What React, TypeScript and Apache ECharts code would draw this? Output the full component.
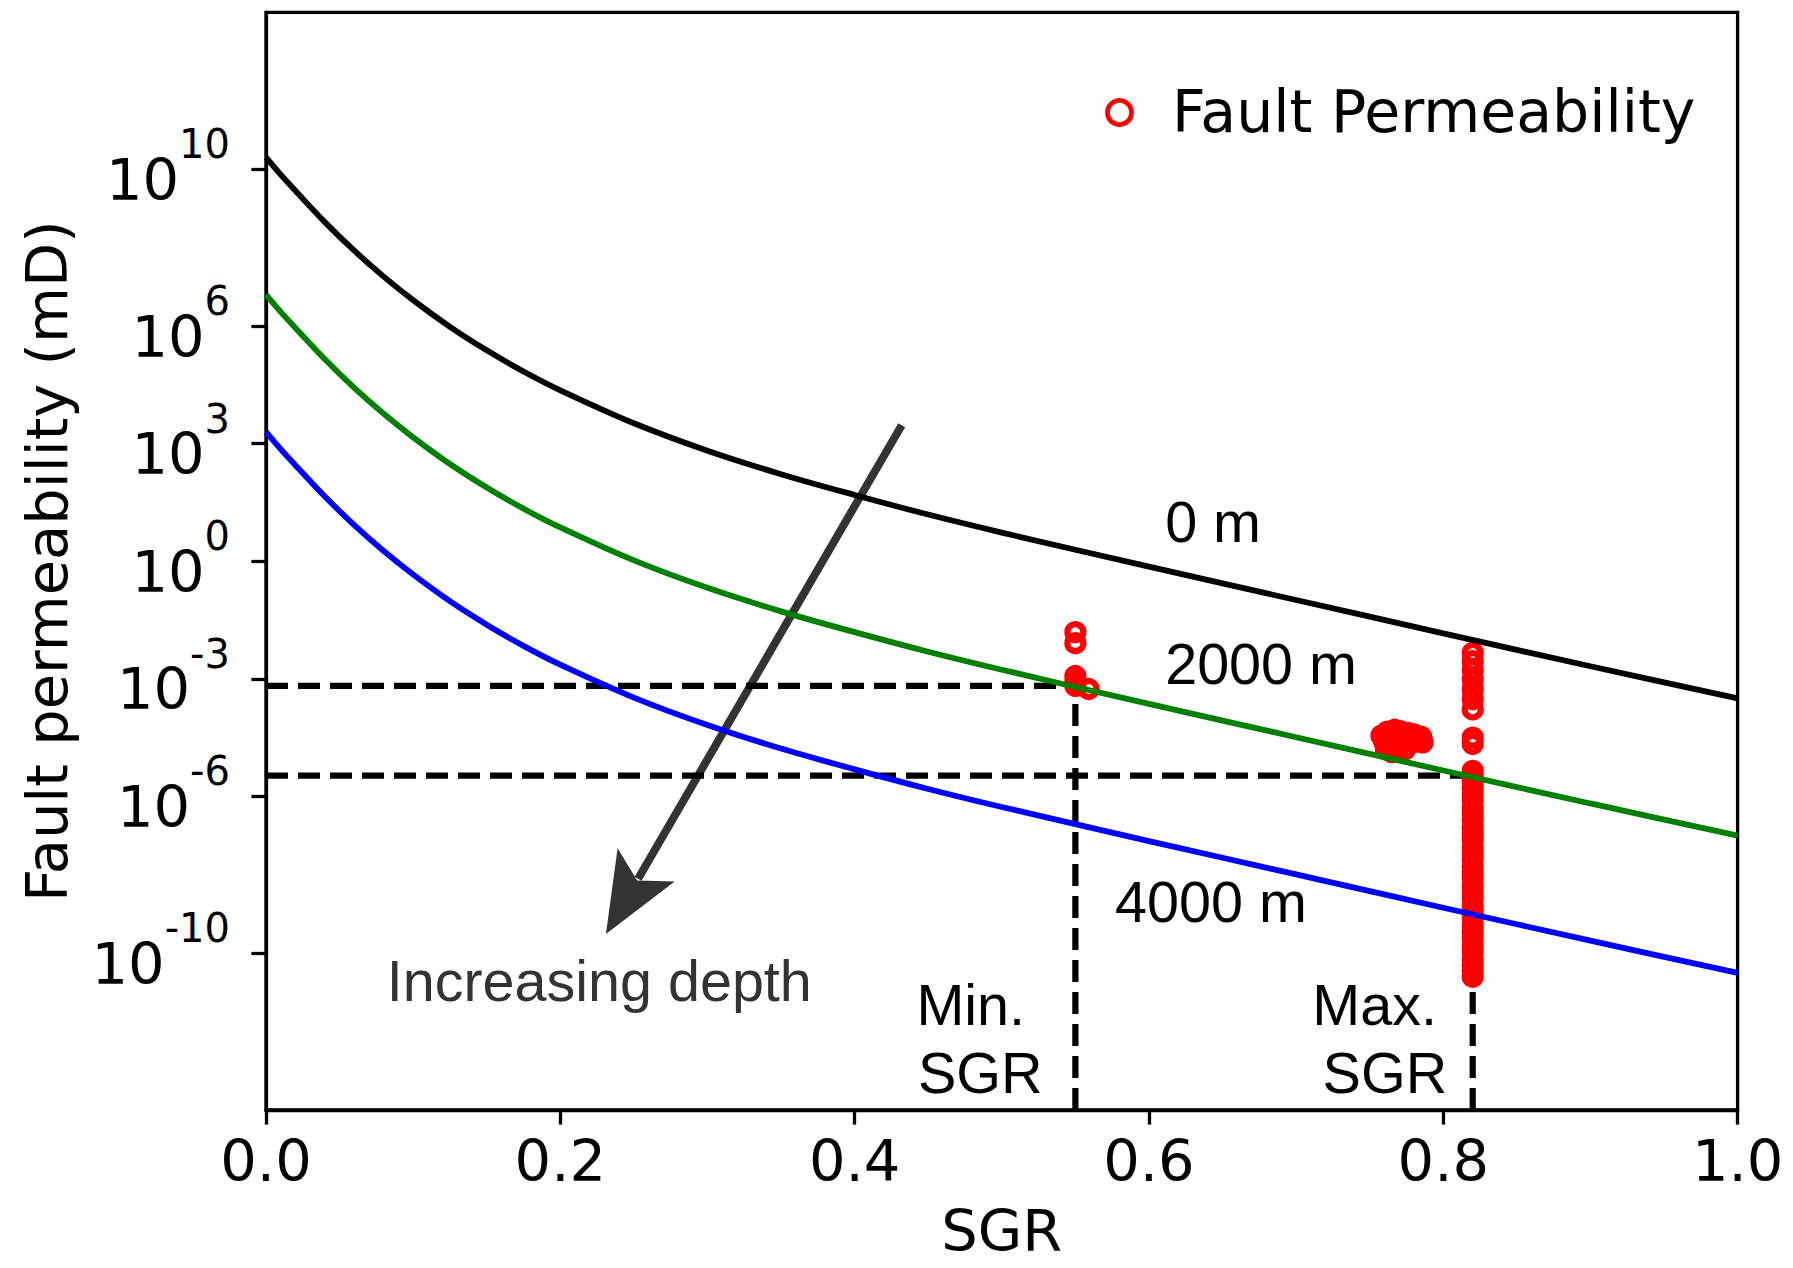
import React, { useEffect, useRef } from "react";
import * as echarts from "echarts";

const W = 1793;
const H = 1268;

// SGR sample positions and the permeability curves (log10 of mD) for three depths
const sgrSamples = [0, 0.01, 0.02, 0.04, 0.06, 0.08, 0.1, 0.125, 0.15, 0.175, 0.2, 0.25, 0.3, 0.35, 0.4, 0.45, 0.5, 0.6, 0.7, 0.8, 0.9, 1.0];
const logPerm0m = [10.3, 9.86, 9.45, 8.65, 7.92, 7.26, 6.66, 5.98, 5.38, 4.84, 4.36, 3.52, 2.82, 2.22, 1.69, 1.19, 0.73, -0.14, -0.99, -1.84, -2.68, -3.5];
const logPerm2000m = [6.8, 6.36, 5.95, 5.15, 4.42, 3.76, 3.16, 2.48, 1.88, 1.34, 0.86, 0.02, -0.68, -1.28, -1.81, -2.31, -2.77, -3.64, -4.49, -5.34, -6.18, -7.0];
const logPerm4000m = [3.3, 2.86, 2.45, 1.65, 0.92, 0.26, -0.34, -1.02, -1.62, -2.16, -2.64, -3.48, -4.18, -4.78, -5.31, -5.81, -6.27, -7.14, -7.99, -8.84, -9.68, -10.5];

// Fault permeability samples: [SGR, log10 k]
const faultPermMinGroup = [
  [0.55, -1.81], [0.55, -2.09], [0.55, -2.93], [0.55, -3.08], [0.55, -3.18], [0.559, -3.26],
];
const faultPermMidGroup = [
  [0.758, -4.45], [0.76, -4.62], [0.761, -4.8], [0.762, -4.35], [0.763, -4.55], [0.764, -4.7],
  [0.765, -4.87], [0.766, -4.4], [0.767, -4.3], [0.768, -4.58], [0.769, -4.75], [0.77, -4.5],
  [0.771, -4.34], [0.772, -4.65], [0.773, -4.45], [0.774, -4.8], [0.776, -4.38], [0.778, -4.55],
  [0.78, -4.42], [0.782, -4.6], [0.785, -4.48], [0.786, -4.62],
];
const maxGroupSGR = 0.82;
const faultPermMaxGroup = [
  -2.34, -2.55, -2.78, -3.02, -3.27, -3.52, -3.78, -4.5, -4.66,
  -5.35, -5.5, -5.62, -5.8, -5.95, -6.1, -6.3, -6.45, -6.6, -6.8, -6.95, -7.1, -7.3, -7.45,
  -7.6, -7.8, -7.95, -8.1, -8.3, -8.45, -8.6, -8.8, -8.95, -9.1, -9.3, -9.45, -9.6, -9.8,
  -9.95, -10.15, -10.3, -10.45, -10.6,
];

// Min./Max. SGR read-off on the 2000 m curve
const minSGR = 0.55;
const minSGRLogPerm = -3.18;
const maxSGR = 0.82;
const maxSGRLogPerm = -5.47;

// Axis settings
const yMin = -14;
const yMax = 14;
const yTickExponents = [-10, -6, -3, 0, 3, 6, 10];
const xMin = 0;
const xMax = 1;
const xInterval = 0.2;

// Arrow for increasing depth: [SGR, log10 k] of tail and tip
const arrowTail = [0.432, 3.47];
const arrowTip = [0.231, -9.51];

// Text notes: label, SGR of left edge, log10 k of centre line
const noteTexts = ["0 m", "2000 m", "4000 m", "Min.", "SGR", "Max.", "SGR", "Increasing depth"];
const noteSGR = [0.611, 0.611, 0.577, 0.442, 0.443, 0.711, 0.718, 0.082];
const noteLogK = [0.99, -2.61, -8.69, -11.33, -13.06, -11.33, -13.06, -10.71];
const noteColors = ["#000", "#000", "#000", "#000", "#000", "#000", "#000", "#333"];

const legendLabel = "Fault Permeability";

const FONT_AXIS = "'DejaVu Sans', sans-serif";
const FONT_NOTE = "'Liberation Sans', Arial, sans-serif";
const FS = 57.5;
const FS_SUP = 40;
const FS_LEGEND = 58.5;
const AXIS_W = 3.3;
const CURVE_W = 5.8;

const GRID = { left: 266, top: 12.4, width: 1471.6, height: 1097.6 };

function textWidth(text: string, font: string): number {
  const ctx = document.createElement("canvas").getContext("2d");
  if (!ctx) return text.length * 25;
  ctx.font = font;
  return ctx.measureText(text).width;
}

function buildOption(): any {
  const curve = (vals: number[], color: string) => ({
    type: "line",
    data: sgrSamples.map((s, i) => [s, vals[i]]),
    showSymbol: false,
    symbol: "none",
    smooth: 0.35,
    lineStyle: { color, width: CURVE_W },
    silent: true,
    clip: true,
  });

  const faultPoints = [
    ...faultPermMinGroup,
    ...faultPermMidGroup,
    ...faultPermMaxGroup.map((v) => [maxGroupSGR, v]),
  ];

  const dashSegments = [
    [xMin, minSGRLogPerm, minSGR, minSGRLogPerm],
    [minSGR, yMin, minSGR, minSGRLogPerm],
    [xMin, maxSGRLogPerm, maxSGR, maxSGRLogPerm],
    [maxSGR, yMin, maxSGR, maxSGRLogPerm],
  ];

  // y tick labels: exponent on a first short line, "10" plus a spacer the width of
  // the exponent on the second line, both right-aligned, so the exponent sits raised
  const supFont = `${FS_SUP}px 'DejaVu Sans'`;
  const yRich: any = {
    s: { fontFamily: FONT_AXIS, fontSize: FS_SUP, lineHeight: 22, color: "#000" },
    b: { fontFamily: FONT_AXIS, fontSize: FS, lineHeight: 50, color: "#000" },
  };
  yTickExponents.forEach((e, i) => {
    yRich[`g${i}`] = { width: textWidth(String(e), supFont), lineHeight: 50, fontSize: FS_SUP };
  });

  return {
    animation: false,
    backgroundColor: "#fff",
    grid: {
      ...GRID,
      show: true,
      borderColor: "#000",
      borderWidth: AXIS_W,
      backgroundColor: "transparent",
      containLabel: false,
      outerBoundsMode: "none",
    },
    xAxis: {
      type: "value",
      min: xMin,
      max: xMax,
      interval: xInterval,
      name: "SGR",
      nameLocation: "middle",
      nameGap: 92,
      nameTextStyle: { fontFamily: FONT_AXIS, fontSize: FS, color: "#000" },
      axisLine: { show: true, onZero: false, lineStyle: { color: "#000", width: AXIS_W } },
      axisTick: { show: true, inside: false, length: 14.6, lineStyle: { color: "#000", width: AXIS_W } },
      axisLabel: {
        fontFamily: FONT_AXIS,
        fontSize: FS,
        color: "#000",
        margin: 22,
        formatter: (v: number) => v.toFixed(1),
      },
      splitLine: { show: false },
    },
    yAxis: {
      type: "value",
      min: yMin,
      max: yMax,
      interval: 1,
      name: "Fault permeability (mD)",
      nameLocation: "middle",
      nameGap: 190,
      nameTextStyle: { fontFamily: FONT_AXIS, fontSize: FS, color: "#000" },
      axisLine: { show: true, onZero: false, lineStyle: { color: "#000", width: AXIS_W } },
      axisTick: {
        show: true,
        inside: false,
        length: 14.6,
        customValues: yTickExponents,
        lineStyle: { color: "#000", width: AXIS_W },
      },
      axisLabel: {
        customValues: yTickExponents,
        margin: 36,
        formatter: (v: number) => {
          const i = yTickExponents.indexOf(v);
          return `{s|${v}}\n{b|10}{g${i < 0 ? 0 : i}| }`;
        },
        rich: yRich,
      },
      splitLine: { show: false },
    },
    series: [
      {
        name: legendLabel,
        type: "scatter",
        data: faultPoints,
        symbol: "circle",
        symbolSize: 16,
        itemStyle: { color: "rgba(0,0,0,0)", borderColor: "#ff0000", borderWidth: 6.2, opacity: 1 },
        silent: true,
      },
      curve(logPerm0m, "#000000"),
      curve(logPerm2000m, "#008000"),
      curve(logPerm4000m, "#0000ff"),
      {
        type: "custom",
        silent: true,
        data: dashSegments,
        renderItem: (_p: any, api: any) => {
          const a = api.coord([api.value(0), api.value(1)]);
          const b = api.coord([api.value(2), api.value(3)]);
          return {
            type: "line",
            shape: { x1: a[0], y1: a[1], x2: b[0], y2: b[1] },
            style: { stroke: "#000", lineWidth: 6.2, lineDash: [22, 10], fill: null },
          };
        },
      },
      {
        type: "custom",
        silent: true,
        data: [[arrowTail[0], arrowTail[1], arrowTip[0], arrowTip[1]]],
        renderItem: (_p: any, api: any) => {
          const p0 = api.coord([api.value(0), api.value(1)]);
          const p1 = api.coord([api.value(2), api.value(3)]);
          const dx = p1[0] - p0[0];
          const dy = p1[1] - p0[1];
          const len = Math.hypot(dx, dy);
          const ux = dx / len;
          const uy = dy / len;
          const nx = -uy;
          const ny = ux;
          const back = (d: number, w: number) => [p1[0] - ux * d + nx * w, p1[1] - uy * d + ny * w];
          const notch = back(62, 0);
          const shaftEnd = back(64, 0);
          const fill = "rgba(0,0,0,0.8)";
          return {
            type: "group",
            children: [
              {
                type: "line",
                shape: { x1: p0[0], y1: p0[1], x2: shaftEnd[0], y2: shaftEnd[1] },
                style: { stroke: fill, lineWidth: 8, fill: null },
              },
              {
                type: "polygon",
                shape: { points: [p1, back(80, 33), notch, back(80, -33)] },
                style: { fill, stroke: null },
              },
            ],
          };
        },
      },
      {
        type: "scatter",
        silent: true,
        symbolSize: 0,
        itemStyle: { opacity: 1 },
        data: noteTexts.map((t, i) => ({
          value: [noteSGR[i], noteLogK[i]],
          label: { formatter: t, color: noteColors[i] },
        })),
        label: {
          show: true,
          position: "right",
          distance: 0,
          opacity: 1,
          fontFamily: FONT_NOTE,
          fontSize: FS,
          align: "left",
          verticalAlign: "middle",
        },
      },
    ],
    graphic: [
      {
        type: "circle",
        shape: { cx: 1119.5, cy: 112.5, r: 12 },
        style: { fill: "none", stroke: "#ff0000", lineWidth: 4.8 },
        silent: true,
      },
      {
        type: "text",
        x: 1172,
        y: 112,
        style: {
          text: legendLabel,
          fontFamily: FONT_AXIS,
          fontSize: FS_LEGEND,
          fill: "#000",
          textAlign: "left",
          textVerticalAlign: "middle",
        },
        silent: true,
      },
    ],
  };
}

export default function App() {
  const ref = useRef<HTMLDivElement>(null);
  useEffect(() => {
    document.body.style.margin = "0";
    const chart = echarts.init(ref.current!, null, { renderer: "svg", width: W, height: H });
    chart.setOption(buildOption());
    return () => chart.dispose();
  }, []);
  return (
    <div
      ref={ref}
      style={{ position: "absolute", left: 0, top: 0, width: W, height: H, background: "#fff" }}
    />
  );
}
